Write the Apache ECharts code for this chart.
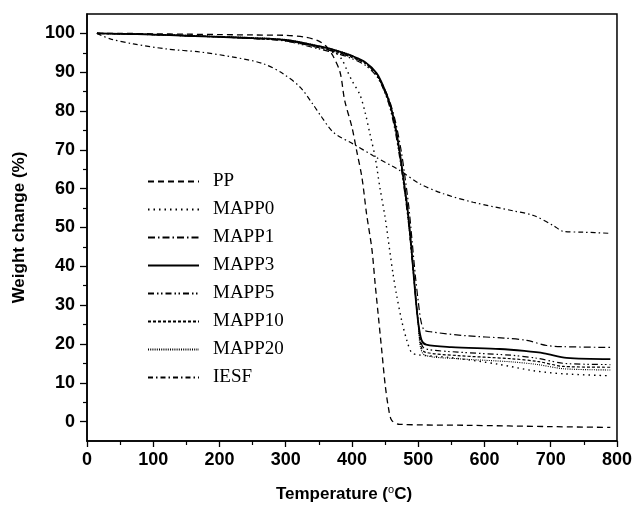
<!DOCTYPE html>
<html>
<head>
<meta charset="utf-8">
<script src="https://cdn.jsdelivr.net/npm/echarts@6/dist/echarts.min.js"></script>
<style>html,body{margin:0;padding:0;background:#fff}#c{width:635px;height:509px}</style>
</head>
<body>
<div id="c"></div>
<script>
// ---- data (temperature °C, weight %) ----
var ppT = [15, 50, 100, 150, 200, 250, 300, 331, 350, 362, 371, 382, 389, 400, 407, 415, 422, 430, 435, 440, 445, 450, 455, 460, 472, 573, 700, 790];
var ppW = [100, 100, 99.9, 99.8, 99.7, 99.6, 99.5, 99.0, 98.0, 96.5, 94.3, 90, 82.7, 75.8, 69.8, 62.9, 53.5, 44.5, 35.4, 26.8, 18.2, 9.6, 3.6, 0.3, -0.7, -0.95, -1.3, -1.5];

var mapp0T = [15, 50, 100, 150, 200, 250, 300, 350, 375, 385, 393, 400, 412, 420, 427, 435, 442, 450, 457, 462, 467, 475, 483, 490, 500, 548, 620, 674, 720, 790];
var mapp0W = [100, 99.9, 99.7, 99.4, 99.1, 98.8, 98.3, 96.6, 95.0, 93.2, 90.3, 87.8, 84.2, 79.5, 74.2, 68.1, 60.4, 52.6, 44.0, 38, 32.9, 26, 20.8, 17.8, 17.2, 16.5, 14.8, 13.1, 12.3, 11.8];

var mapp1T = [15, 50, 100, 150, 200, 250, 300, 350, 380, 400, 420, 437, 447, 457, 466, 474, 480, 486, 491, 496, 500, 504, 509, 520, 573, 630, 664, 694, 720, 790];
var mapp1W = [100, 99.9, 99.7, 99.4, 99.1, 98.7, 98.1, 96.3, 95.0, 93.8, 92.2, 89.5, 86.5, 82.5, 77, 70, 63, 55, 46, 37, 31, 26, 23.6, 23.1, 22.1, 21.5, 20.9, 19.6, 19.3, 19.1];

var mapp3T = [15, 50, 100, 150, 200, 250, 300, 350, 380, 400, 420, 437, 447, 457, 465, 472, 477, 483, 488, 492, 496, 500, 505, 512, 550, 623, 660, 690, 724, 790];
var mapp3W = [100, 99.9, 99.7, 99.4, 99.1, 98.8, 98.3, 96.7, 95.4, 94.2, 92.6, 89.8, 86.5, 82, 76.5, 69.5, 63.5, 56, 48, 40, 32, 25.5, 21, 19.8, 19.2, 18.7, 18.2, 17.6, 16.4, 16.1];

var mapp5T = [15, 50, 100, 150, 200, 250, 300, 350, 380, 400, 420, 437, 447, 457, 465, 472, 478, 484, 489, 494, 499, 504, 510, 560, 640, 680, 720, 790];
var mapp5W = [100, 99.9, 99.7, 99.4, 99.1, 98.7, 98.0, 96.0, 94.7, 93.5, 91.8, 89, 85.8, 81, 75, 68, 61, 53, 45, 36, 27, 20.5, 18.8, 17.9, 17.1, 16.3, 15.0, 14.7];

var mapp10T = [15, 50, 100, 150, 200, 250, 300, 350, 380, 400, 420, 437, 447, 457, 465, 472, 478, 484, 489, 494, 499, 504, 510, 560, 640, 680, 720, 790];
var mapp10W = [100, 99.9, 99.7, 99.4, 99.1, 98.7, 98.2, 96.4, 95.1, 93.9, 92.3, 89.4, 86, 81.5, 75.7, 68.8, 61.5, 53.5, 45, 36, 27, 19.5, 17.9, 17.0, 16.2, 15.5, 14.2, 14.0];

var mapp20T = [15, 50, 100, 150, 200, 250, 300, 350, 380, 400, 420, 437, 447, 457, 465, 472, 478, 484, 489, 494, 499, 503, 510, 560, 640, 680, 720, 790];
var mapp20W = [100, 99.9, 99.7, 99.5, 99.2, 98.9, 98.4, 96.8, 95.5, 94.3, 92.5, 89.6, 86.1, 81.8, 76, 69, 62, 54, 45.5, 36.5, 27.5, 19.5, 17.1, 16.2, 15.4, 14.7, 13.6, 13.3];

var iesfT = [15, 35, 70, 120, 171, 221, 266, 296, 322, 342, 352, 372, 402, 432, 472, 503, 538, 583, 643, 674, 704, 719, 749, 790];
var iesfW = [100, 98.6, 97.3, 96.0, 95.2, 93.9, 92.2, 89.6, 86.1, 81.5, 79.0, 74.5, 71.5, 68.5, 64.7, 61.2, 58.7, 56.5, 54.3, 53.1, 50.5, 49.0, 48.8, 48.5];

var seriesNames = ['PP', 'MAPP0', 'MAPP1', 'MAPP3', 'MAPP5', 'MAPP10', 'MAPP20', 'IESF'];
var yTicksMajor = [0, 10, 20, 30, 40, 50, 60, 70, 80, 90, 100];
var yTicksMinor = [5, 15, 25, 35, 45, 55, 65, 75, 85, 95];

function zip(t, w) { return t.map(function (v, i) { return [v, w[i]]; }); }

var dataSets = [zip(ppT, ppW), zip(mapp0T, mapp0W), zip(mapp1T, mapp1W), zip(mapp3T, mapp3W),
  zip(mapp5T, mapp5W), zip(mapp10T, mapp10W), zip(mapp20T, mapp20W), zip(iesfT, iesfW)];

var styles = [
  { type: [6, 4], width: 1.3 },
  { type: [1.5, 4], width: 1.4 },
  { type: [7, 3, 1.5, 3], width: 1.2 },
  { type: 'solid', width: 1.8 },
  { type: [6, 3, 1.5, 2.5, 1.5, 3], width: 1.2 },
  { type: [3, 2], width: 1.2 },
  { type: [1, 1.2], width: 1.1 },
  { type: [5, 3, 1.5, 3], width: 1.2 }
];

var chart = echarts.init(document.getElementById('c'), null, { renderer: 'canvas' });
var axisFont = { fontFamily: 'Liberation Sans, Arial, sans-serif', fontWeight: 'bold', fontSize: 18, color: '#000' };

var option = {
  animation: false,
  backgroundColor: '#fff',
  grid: { left: 87, right: 18, top: 14, bottom: 68, show: true, borderColor: '#000', borderWidth: 1.5, backgroundColor: 'transparent' },
  legend: {
    orient: 'vertical', left: 142, top: 167, itemWidth: 51, itemHeight: 14, itemGap: 9,
    data: seriesNames,
    itemStyle: { opacity: 0 },
    textStyle: { fontFamily: 'Liberation Serif, Times New Roman, serif', fontSize: 19, color: '#000', padding: [0, 0, 0, 9] }
  },
  xAxis: {
    type: 'value', min: 0, max: 800, interval: 100,
    name: 'Temperature ({sup|o}C)', nameLocation: 'middle', nameGap: 43,
    nameTextStyle: {
      fontFamily: 'Liberation Sans, Arial, sans-serif', fontWeight: 'bold', fontSize: 17, color: '#000',
      padding: [0, 16, 0, 0],
      rich: { sup: { fontFamily: 'Liberation Sans, Arial, sans-serif', fontSize: 11, fontWeight: 'normal', color: '#000', verticalAlign: 'bottom', padding: [0, 0, 9, 0] } }
    },
    axisLine: { onZero: false, lineStyle: { color: '#000', width: 1.5 } },
    axisTick: { show: true, inside: false, length: 6, lineStyle: { color: '#000', width: 1.3 } },
    minorTick: { show: true, splitNumber: 2, length: 4, lineStyle: { color: '#000', width: 1.2 } },
    axisLabel: { margin: 10, ...axisFont },
    splitLine: { show: false }
  },
  yAxis: [{
    type: 'value', min: -5, max: 105,
    name: 'Weight change (%)', nameLocation: 'middle', nameGap: 59,
    nameTextStyle: { fontFamily: 'Liberation Sans, Arial, sans-serif', fontWeight: 'bold', fontSize: 17, color: '#000' },
    axisLine: { show: true, onZero: false, lineStyle: { color: '#000', width: 1.5 } },
    axisTick: { show: true, length: 7, customValues: yTicksMajor, lineStyle: { color: '#000', width: 1.3 } },
    axisLabel: { margin: 12, customValues: yTicksMajor, ...axisFont },
    splitLine: { show: false }
  }, {
    type: 'value', min: -5, max: 105, position: 'left',
    axisLine: { show: false, onZero: false },
    axisTick: { show: true, length: 4, customValues: yTicksMinor, lineStyle: { color: '#000', width: 1.2 } },
    axisLabel: { show: false },
    splitLine: { show: false }
  }],
  series: seriesNames.map(function (n, i) {
    return {
      name: n, type: 'line', data: dataSets[i], yAxisIndex: 0,
      showSymbol: false, symbol: 'none', smooth: 0.3,
      lineStyle: { color: '#000', width: styles[i].width, type: styles[i].type },
      itemStyle: { color: '#000' }
    };
  })
};
chart.setOption(option);
</script>
</body>
</html>
